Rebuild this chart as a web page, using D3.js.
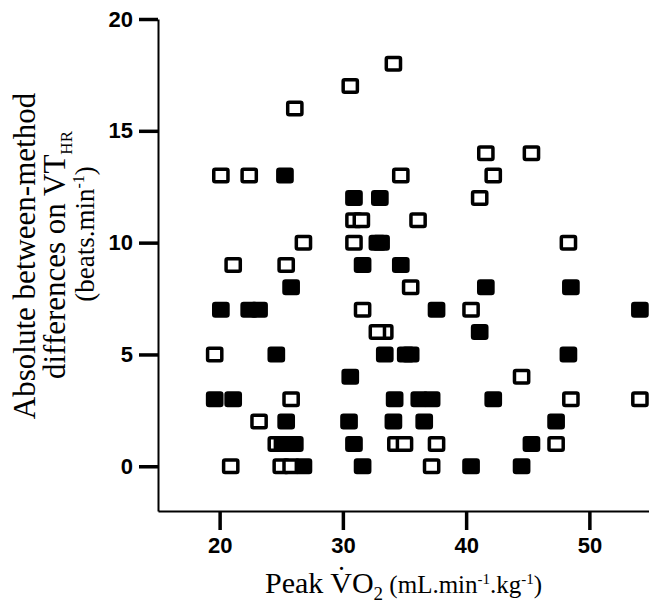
<!DOCTYPE html>
<html>
<head>
<meta charset="utf-8">
<script src="https://cdnjs.cloudflare.com/ajax/libs/d3/7.8.5/d3.min.js"></script>
<style>
  body { margin: 0; background: #fff; }
</style>
</head>
<body>
<div id="chart"></div>
<script>
// ### Data ###################################################################
// open squares
var openVO2  = [34.1, 30.6, 26.1, 41.6, 45.3, 20.1, 22.4, 34.7, 42.2, 41.1,
                30.9, 31.5, 36.1, 26.8, 30.9, 48.3, 21.1, 25.4, 35.5, 31.6,
                40.4, 33.4, 32.8, 19.6, 44.5, 25.8, 48.5, 54.1, 23.2, 24.6,
                34.3, 35.0, 37.6, 47.3, 20.9, 25.0, 25.8, 37.2];
var openDiff = [18, 17, 16, 14, 14, 13, 13, 13, 13, 12,
                11, 11, 11, 10, 10, 10, 9, 9, 8, 7,
                7, 6, 6, 5, 4, 3, 3, 3, 2, 1,
                1, 1, 1, 1, 0, 0, 0, 0];
// filled squares
var filledVO2  = [30.9, 33.0, 25.3, 32.8, 33.1, 31.6, 34.7, 25.8, 41.6, 48.5,
                  20.1, 22.4, 23.2, 37.6, 54.1, 41.1, 24.6, 33.4, 35.1, 35.5,
                  48.3, 30.6, 19.6, 21.1, 34.2, 36.2, 37.2, 42.2, 25.4, 30.5,
                  34.1, 36.6, 47.3, 25.1, 26.1, 30.9, 45.3, 26.8, 31.6, 40.4,
                  44.5];
var filledDiff = [12, 12, 13, 10, 10, 9, 9, 8, 8, 8,
                  7, 7, 7, 7, 7, 6, 5, 5, 5, 5,
                  5, 4, 3, 3, 3, 3, 3, 3, 2, 2,
                  2, 2, 2, 1, 1, 1, 1, 0, 0, 0,
                  0];
var xTicks = [20, 30, 40, 50];
var yTicks = [0, 5, 10, 15, 20];

// ### Layout #################################################################
var width = 649, height = 603;
var boxW = 14.2, boxH = 12.5;

var svg = d3.select("#chart").append("svg")
    .attr("width", width)
    .attr("height", height);

var x = d3.scaleLinear().domain([15, 55]).range([158, 651]);
var y = d3.scaleLinear().domain([-2, 20]).range([511, 19]);

// axes
var xAxis = d3.axisBottom(x).tickValues(xTicks).tickSize(19).tickSizeOuter(0).tickPadding(7);
var yAxis = d3.axisLeft(y).tickValues(yTicks).tickSize(19).tickSizeOuter(0).tickPadding(6);

var gx = svg.append("g")
    .attr("transform", "translate(0," + y(-2) + ")")
    .call(xAxis);
var gy = svg.append("g")
    .attr("transform", "translate(" + x(15) + ",0)")
    .call(yAxis);

svg.selectAll(".domain")
    .style("stroke", "#000")
    .style("stroke-width", "2px");
svg.selectAll(".tick line")
    .style("stroke", "#000")
    .style("stroke-width", "3.5px");
svg.selectAll(".tick text")
    .style("font", "bold 22px 'Liberation Sans', Arial, sans-serif")
    .style("fill", "#000");

// ### Markers ################################################################
function drawSquares(xs, ys, filled) {
    svg.append("g").selectAll("rect")
        .data(xs)
        .enter().append("rect")
        .attr("x", function(d) { return x(d) - boxW / 2; })
        .attr("y", function(d, i) { return y(ys[i]) - boxH / 2; })
        .attr("width", boxW)
        .attr("height", boxH)
        .attr("rx", 1.5)
        .style("fill", filled ? "#000" : "#fff")
        .style("stroke", "#000")
        .style("stroke-width", 3.5);
}
drawSquares(openVO2, openDiff, false);
drawSquares(filledVO2, filledDiff, true);

// ### Axis titles ############################################################
var serif = "'Liberation Serif', 'Times New Roman', serif";

var xt = svg.append("text")
    .attr("x", 265)
    .attr("y", 593)
    .style("font-family", serif)
    .style("fill", "#000");
xt.append("tspan").style("font-size", "30px").text("Peak V\u0307O");
xt.append("tspan").style("font-size", "19px").attr("dy", 7).text("2");
xt.append("tspan").style("font-size", "25px").attr("dy", -7).text(" (mL.min");
xt.append("tspan").style("font-size", "15px").attr("dy", -9).text("-1");
xt.append("tspan").style("font-size", "25px").attr("dy", 9).text(".kg");
xt.append("tspan").style("font-size", "15px").attr("dy", -9).text("-1");
xt.append("tspan").style("font-size", "25px").attr("dy", 9).text(")");

var yt1 = svg.append("text")
    .attr("transform", "translate(35,256) rotate(-90)")
    .attr("text-anchor", "middle")
    .style("font-family", serif)
    .style("font-size", "31px")
    .text("Absolute between-method");

var yt2 = svg.append("text")
    .attr("transform", "translate(65,255) rotate(-90)")
    .attr("text-anchor", "middle")
    .style("font-family", serif)
    .style("font-size", "31px");
yt2.append("tspan").text("differences on VT");
yt2.append("tspan").style("font-size", "17px").attr("dy", 7).text("HR");

var yt3 = svg.append("text")
    .attr("transform", "translate(94,234) rotate(-90)")
    .attr("text-anchor", "middle")
    .style("font-family", serif)
    .style("font-size", "27px");
yt3.append("tspan").text("(beats.min");
yt3.append("tspan").style("font-size", "16px").attr("dy", -10).text("-1");
yt3.append("tspan").attr("dy", 10).text(")");
</script>
</body>
</html>
